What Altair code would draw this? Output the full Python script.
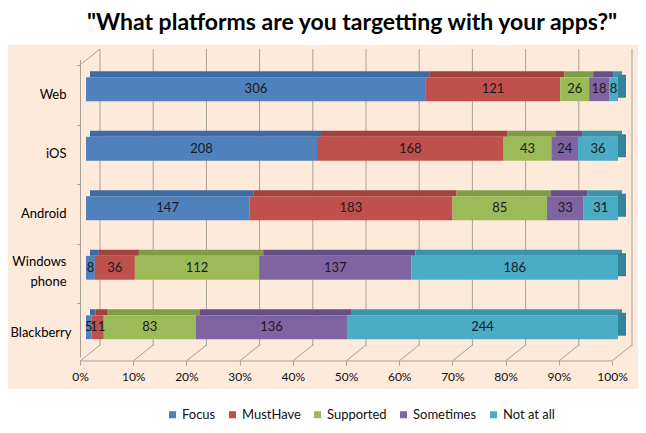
import altair as alt
import pandas as pd

platforms = ["Web", "iOS", "Android", "Windows phone", "Blackberry"]
series = ["Focus", "MustHave", "Supported", "Sometimes", "Not at all"]
focus = [306, 208, 147, 8, 5]
must_have = [121, 168, 183, 36, 11]
supported = [26, 43, 85, 112, 83]
sometimes = [18, 24, 33, 137, 136]
not_at_all = [8, 36, 31, 186, 244]
x_ticks = [0, 0.1, 0.2, 0.3, 0.4, 0.5, 0.6, 0.7, 0.8, 0.9, 1.0]
title_text = '"What platforms are you targetting with your apps?"'

front_colors = ["#4F81BD", "#C0504D", "#9BBB59", "#8064A2", "#4BACC6"]
top_colors = ["#3D6BA3", "#A2423F", "#7F9D47", "#67508A", "#3C93AB"]
end_color = "#31849B"
grid_color = "#A8A097"
peach = "#FDEADA"
FONT = "Lato"

cols = [focus, must_have, supported, sometimes, not_at_all]
rows = []
for i, p in enumerate(platforms):
    for j, s in enumerate(series):
        rows.append({"platform": p, "series": s, "order": j, "value": cols[j][i]})
df = pd.DataFrame(rows)
tick_df = pd.DataFrame({"tick": x_ticks})

x_scale = alt.Scale(domain=[0, 1], range=[78, 610], nice=False, zero=False)
x_axis = alt.Axis(values=x_ticks, format="%", title=None, offset=-28, domain=False,
                  tickSize=4, tickOffset=-6, tickColor=grid_color, grid=False,
                  labelFlush=False, labelPadding=6, labelFontSize=12, labelFont=FONT,
                  labelColor="#111111")


def X(field):
    return alt.X(field, scale=x_scale, axis=x_axis)


y_enc = alt.Y("platform:N", sort=platforms,
              scale=alt.Scale(range=[14.5, 312], paddingInner=0.6, paddingOuter=0.3),
              axis=alt.Axis(title=None, offset=-72, domain=True, domainColor=grid_color,
                            ticks=True, tickSize=3, tickColor=grid_color,
                            tickOffset=-24,
                            labelOffset={"condition": {"test": "datum.label == 'Windows phone'", "value": 18},
                                         "value": 29},
                            labelPadding={"condition": {"test": "datum.label == 'Blackberry'", "value": 6},
                                          "value": 11},
                            labelLineHeight=20,
                            labelFontSize=13, labelFont=FONT, labelColor="#000000",
                            labelAlign="right", labelBaseline="middle", labelLimit=0,
                            labelExpr="datum.label == 'Windows phone' ? ['Windows', 'phone'] : datum.label"))

base = alt.Chart(df).transform_stack(
    stack="value", groupby=["platform"], as_=["v0", "v1"],
    sort=[alt.SortField("order", "ascending")]
).transform_joinaggregate(
    total="sum(value)", groupby=["platform"]
).transform_calculate(
    x0="datum.v0 / datum.total",
    x1="datum.v1 / datum.total",
    mid="(datum.v0 + datum.v1) / 2 / datum.total",
)

grid = alt.Chart(tick_df).mark_rule(color=grid_color, xOffset=14).encode(
    x=X("tick:Q"), y=alt.value(4), y2=alt.value(301))
floor_diag = alt.Chart(tick_df).mark_rule(color=grid_color, xOffset=-6, x2Offset=14).encode(
    x=X("tick:Q"), x2="tick:Q", y=alt.value(316), y2=alt.value(300))
wall_diag = alt.Chart(tick_df).transform_filter("datum.tick == 0").mark_rule(
    color=grid_color, xOffset=-6, x2Offset=14).encode(
    x=X("tick:Q"), x2="tick:Q", y=alt.value(20), y2=alt.value(4))
floor_edge = alt.Chart(tick_df).mark_rule(color=grid_color, xOffset=-6, x2Offset=-6).encode(
    x=X("min(tick):Q"), x2="max(tick):Q", y=alt.value(316))

top_face = base.mark_bar(size=6, yOffset=-15, xOffset=4, x2Offset=4).encode(
    x=X("x0:Q"), x2="x1:Q", y=y_enc,
    color=alt.Color("series:N", scale=alt.Scale(domain=series, range=top_colors), legend=None))
end_face = base.transform_filter("datum.order == 4").mark_bar(
    size=23, yOffset=-3, x2Offset=8, color=end_color).encode(
    x=X("x1:Q"), x2="x1:Q", y=y_enc)
front = base.mark_bar().encode(
    x=X("x0:Q"), x2="x1:Q", y=y_enc,
    color=alt.Color("series:N", scale=alt.Scale(domain=series, range=front_colors),
                    legend=alt.Legend(title=None, orient="none", legendX=158, legendY=363,
                                      direction="horizontal", symbolType="square",
                                      symbolSize=50, symbolStrokeWidth=0,
                                      labelFontSize=13, labelFont=FONT, labelColor="#111111",
                                      columnPadding=10, labelOffset=3)))
labels = base.mark_text(fontSize=13, font=FONT, color="#1a1a1a").encode(
    x=X("mid:Q"), y=y_enc, text="value:Q")

chart = alt.layer(grid, floor_diag, wall_diag, floor_edge, top_face, end_face, front, labels).resolve_scale(
    color="independent"
).properties(
    width=630, height=344,
    autosize=alt.AutoSizeParams(type="none"),
    padding={"left": 0, "top": 37, "right": 0, "bottom": 36},
    title=alt.Title(title_text, fontSize=23, font=FONT, fontWeight="bold", anchor="middle",
                    dx=29, offset=10, color="#000000"),
).configure_view(fill=peach, strokeWidth=0)

chart.save("out.html", embed_options={"renderer": "svg", "actions": False})
